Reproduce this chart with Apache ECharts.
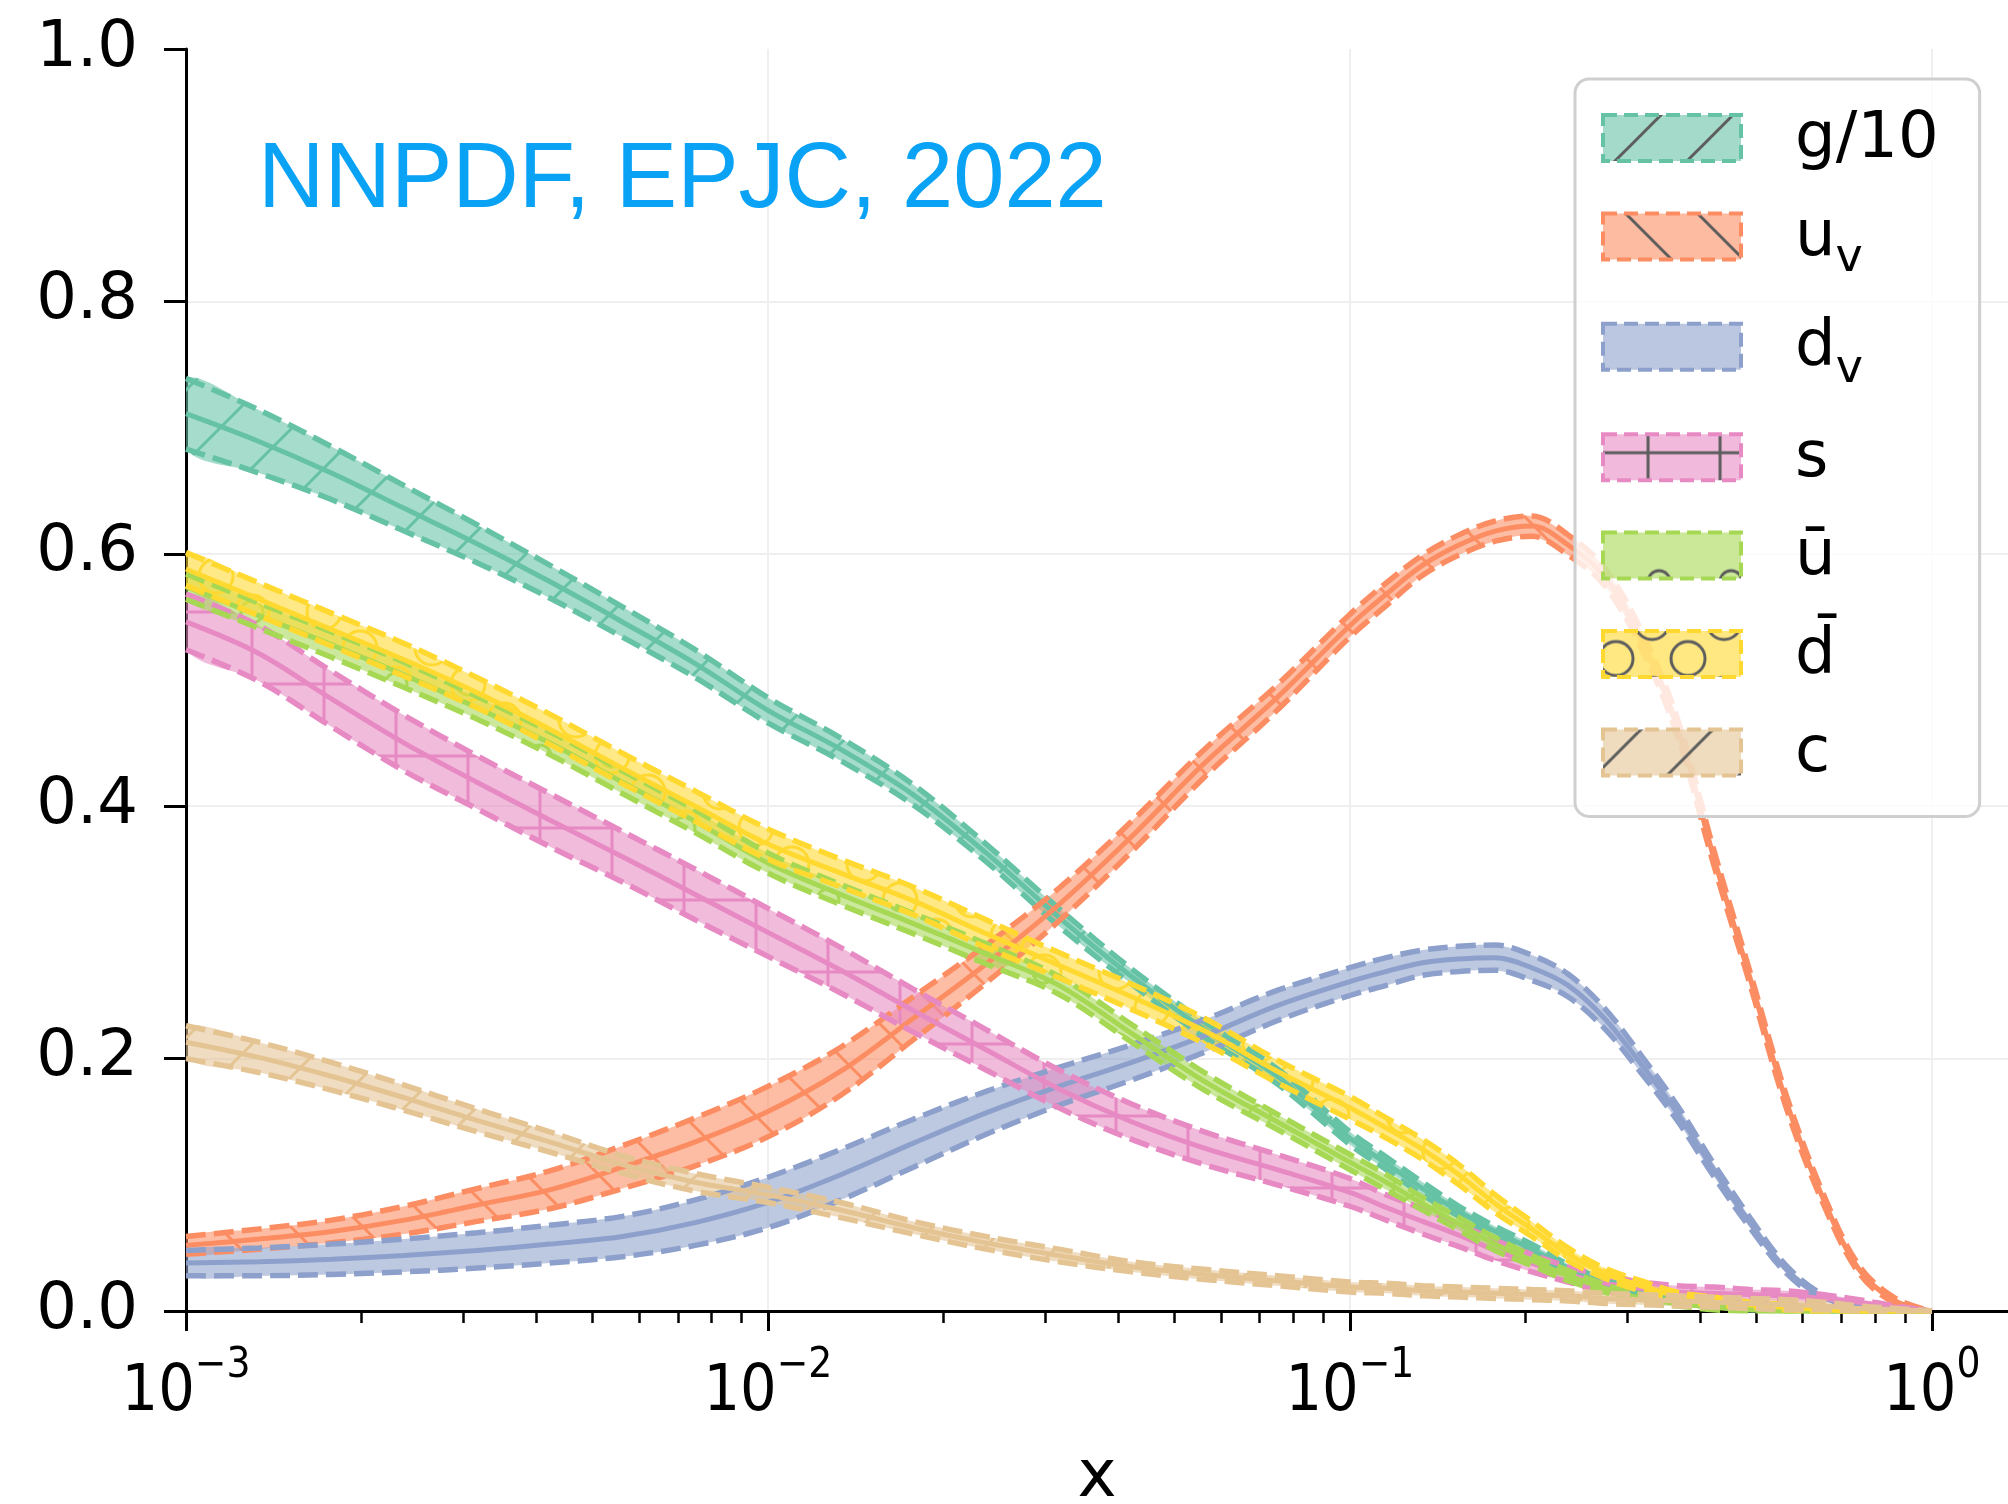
<!DOCTYPE html>
<html>
<head>
<meta charset="utf-8">
<script src="https://cdn.jsdelivr.net/npm/echarts@6/dist/echarts.min.js"></script>
<style>
  html, body { margin: 0; padding: 0; background: #ffffff; }
  #chart { width: 2008px; height: 1504px; }
</style>
</head>
<body>
<div id="chart"></div>
<script>
// Momentum fraction grid (log spaced, finer above x = 0.1)
const xValues = [0.001, 0.001334, 0.001778, 0.002371, 0.003162, 0.004217, 0.005623, 0.007499,
  0.01, 0.01334, 0.01778, 0.02371, 0.03162, 0.04217, 0.05623, 0.07499,
  0.1, 0.1155, 0.1334, 0.1540, 0.1778, 0.2054, 0.2371, 0.2738, 0.3162, 0.3652,
  0.4217, 0.4870, 0.5623, 0.6494, 0.7499, 0.8660, 1.0];

// x f(x) central values and one-sigma half widths
const gluonOver10 = [0.711, 0.689, 0.664, 0.636, 0.608, 0.578, 0.546, 0.513, 0.476, 0.445, 0.409, 0.363, 0.312, 0.265, 0.223, 0.186,
  0.137, 0.117, 0.097, 0.079, 0.063, 0.049, 0.034, 0.022, 0.015, 0.010, 0.006, 0.003, 0.002, 0.001, 0, 0, 0];
const gluonOver10Unc = [0.028, 0.025, 0.021, 0.018, 0.015, 0.013, 0.012, 0.011, 0.010, 0.009, 0.008, 0.007, 0.007, 0.006, 0.006, 0.006,
  0.005, 0.005, 0.005, 0.004, 0.004, 0.004, 0.003, 0.003, 0.003, 0.002, 0.002, 0.002, 0.001, 0.001, 0, 0, 0];

const upValence = [0.052, 0.057, 0.063, 0.072, 0.084, 0.096, 0.114, 0.134, 0.158, 0.190, 0.232, 0.275, 0.322, 0.376, 0.434, 0.486,
  0.543, 0.568, 0.591, 0.607, 0.618, 0.622, 0.607, 0.582, 0.533, 0.463, 0.360, 0.264, 0.166, 0.090, 0.033, 0.008, 0];
const upValenceUnc = [0.007, 0.008, 0.009, 0.011, 0.013, 0.015, 0.017, 0.019, 0.020, 0.019, 0.017, 0.015, 0.013, 0.012, 0.011, 0.010,
  0.009, 0.009, 0.008, 0.008, 0.008, 0.008, 0.008, 0.007, 0.007, 0.007, 0.006, 0.005, 0.005, 0.004, 0.003, 0.002, 0];

const downValence = [0.038, 0.039, 0.041, 0.044, 0.048, 0.053, 0.059, 0.070, 0.086, 0.108, 0.133, 0.157, 0.178, 0.197, 0.218, 0.242,
  0.261, 0.269, 0.276, 0.279, 0.280, 0.272, 0.258, 0.232, 0.196, 0.157, 0.112, 0.070, 0.033, 0.011, 0.003, 0.001, 0];
const downValenceUnc = [0.010, 0.011, 0.012, 0.013, 0.014, 0.015, 0.016, 0.018, 0.020, 0.020, 0.019, 0.017, 0.015, 0.014, 0.013, 0.012,
  0.011, 0.011, 0.010, 0.010, 0.010, 0.010, 0.009, 0.008, 0.007, 0.006, 0.005, 0.004, 0.003, 0.002, 0.001, 0.001, 0];

const strange = [0.546, 0.521, 0.485, 0.450, 0.419, 0.389, 0.360, 0.330, 0.300, 0.270, 0.238, 0.207, 0.176, 0.150, 0.129, 0.112,
  0.094, 0.082, 0.071, 0.060, 0.048, 0.038, 0.029, 0.022, 0.018, 0.015, 0.014, 0.013, 0.012, 0.010, 0.007, 0.003, 0];
const strangeUnc = [0.022, 0.022, 0.022, 0.022, 0.021, 0.021, 0.020, 0.020, 0.019, 0.018, 0.017, 0.016, 0.015, 0.014, 0.013, 0.012,
  0.011, 0.010, 0.010, 0.009, 0.008, 0.007, 0.006, 0.006, 0.005, 0.005, 0.005, 0.004, 0.004, 0.003, 0.002, 0.001, 0];

const antiUp = [0.574, 0.551, 0.528, 0.504, 0.478, 0.450, 0.419, 0.388, 0.355, 0.330, 0.307, 0.283, 0.258, 0.220, 0.182, 0.150,
  0.118, 0.102, 0.085, 0.069, 0.053, 0.040, 0.028, 0.018, 0.010, 0.006, 0.003, 0.001, 0, 0, 0, 0, 0];
const antiUpUnc = [0.010, 0.010, 0.010, 0.010, 0.009, 0.009, 0.009, 0.009, 0.008, 0.008, 0.008, 0.008, 0.007, 0.007, 0.007, 0.006,
  0.006, 0.006, 0.005, 0.005, 0.005, 0.004, 0.004, 0.003, 0.003, 0.002, 0.002, 0.001, 0, 0, 0, 0, 0];

const antiDown = [0.588, 0.564, 0.540, 0.516, 0.490, 0.461, 0.430, 0.400, 0.370, 0.347, 0.325, 0.299, 0.274, 0.249, 0.222, 0.190,
  0.161, 0.145, 0.128, 0.108, 0.085, 0.065, 0.045, 0.030, 0.020, 0.012, 0.008, 0.005, 0.003, 0.001, 0, 0, 0];
const antiDownUnc = [0.013, 0.013, 0.013, 0.013, 0.012, 0.012, 0.012, 0.012, 0.012, 0.011, 0.011, 0.011, 0.010, 0.010, 0.010, 0.009,
  0.009, 0.008, 0.008, 0.008, 0.007, 0.006, 0.005, 0.004, 0.004, 0.003, 0.003, 0.002, 0.002, 0.001, 0, 0, 0];

const charm = [0.213, 0.201, 0.186, 0.169, 0.151, 0.134, 0.116, 0.102, 0.092, 0.080, 0.066, 0.054, 0.044, 0.035, 0.029, 0.024,
  0.019, 0.018, 0.016, 0.015, 0.014, 0.013, 0.012, 0.010, 0.009, 0.008, 0.007, 0.006, 0.005, 0.004, 0.002, 0.001, 0];
const charmUnc = [0.013, 0.012, 0.011, 0.010, 0.009, 0.008, 0.007, 0.007, 0.006, 0.006, 0.005, 0.005, 0.005, 0.004, 0.004, 0.004,
  0.004, 0.004, 0.004, 0.004, 0.004, 0.004, 0.004, 0.004, 0.004, 0.004, 0.004, 0.004, 0.004, 0.003, 0.002, 0.001, 0];

const legendLabels = ['g/10', 'u_v', 'd_v', 's', 'ū', 'd̄', 'c'];
const xTickValues = [0.001, 0.01, 0.1, 1];
const xMinorTickValues = [0.002, 0.003, 0.004, 0.005, 0.006, 0.007, 0.008, 0.009,
  0.02, 0.03, 0.04, 0.05, 0.06, 0.07, 0.08, 0.09,
  0.2, 0.3, 0.4, 0.5, 0.6, 0.7, 0.8, 0.9];
const xAxisMin = 0.001;
const xAxisMax = 1.352;
const yAxisMin = 0, yAxisMax = 1, yAxisStep = 0.2;

// Set2 colours and hatch kinds, one per distribution
const bandColors = ['#66c2a5', '#fc8d62', '#8da0cb', '#e78ac3', '#a6d854', '#ffd92f', '#e5c494'];
const bandHatches = ['/', '\\', '', '+', 'o', 'O', '/'];
const centralSets = [gluonOver10, upValence, downValence, strange, antiUp, antiDown, charm];
const uncSets = [gluonOver10Unc, upValenceUnc, downValenceUnc, strangeUnc, antiUpUnc, antiDownUnc, charmUnc];

const FONT = 'DejaVu Sans';
const FONT_COND = "'DejaVu Sans Condensed', 'DejaVu Sans'";

// Legend layout
const LEGEND_LEFT = 1575, LEGEND_TOP = 79;
const ICON_W = 138, ICON_H = 46;
const FIRST_ICON_CY = 143, ITEM_STEP = 102.5;

function hexToRgba(hex, a) {
  const n = parseInt(hex.slice(1), 16);
  return 'rgba(' + ((n >> 16) & 255) + ',' + ((n >> 8) & 255) + ',' + (n & 255) + ',' + a + ')';
}

// Repeating tile: translucent face colour plus a hatch drawn in lineColor
function hatchPattern(color, alpha, lineColor, kind, ox, oy) {
  const P = 72;
  const cv = document.createElement('canvas');
  cv.width = P; cv.height = P;
  const ctx = cv.getContext('2d');
  ctx.fillStyle = hexToRgba(color, alpha);
  ctx.fillRect(0, 0, P, P);
  ctx.strokeStyle = lineColor;
  ctx.lineWidth = 3;
  ctx.beginPath();
  if (kind === '/') {
    ctx.moveTo(-4, P + 4); ctx.lineTo(P + 4, -4);
    ctx.moveTo(-4, 4); ctx.lineTo(4, -4);
    ctx.moveTo(P - 4, P + 4); ctx.lineTo(P + 4, P - 4);
  } else if (kind === '\\') {
    ctx.moveTo(-4, -4); ctx.lineTo(P + 4, P + 4);
    ctx.moveTo(P - 4, -4); ctx.lineTo(P + 4, 4);
    ctx.moveTo(-4, P - 4); ctx.lineTo(4, P + 4);
  } else if (kind === '+') {
    ctx.moveTo(0, P / 2); ctx.lineTo(P, P / 2);
    ctx.moveTo(P / 2, 0); ctx.lineTo(P / 2, P);
  } else if (kind === 'o') {
    ctx.moveTo(P / 2 + 11, P / 2);
    ctx.arc(P / 2, P / 2, 11, 0, Math.PI * 2);
  } else if (kind === 'O') {
    const r = 17;
    [[0, 0], [P, 0], [0, P], [P, P], [P / 2, P / 2]].forEach(function (c) {
      ctx.moveTo(c[0] + r, c[1]);
      ctx.arc(c[0], c[1], r, 0, Math.PI * 2);
    });
  }
  ctx.stroke();
  return { image: cv, repeat: 'repeat', x: ox || 0, y: oy || 0 };
}

// Shaded band between central - unc and central + unc, placed through the axes
function bandRenderer(central, unc, fill) {
  return function (params, api) {
    const upper = [], lower = [];
    for (let i = 0; i < xValues.length; i++) {
      upper.push(api.coord([xValues[i], central[i] + unc[i]]));
      lower.push(api.coord([xValues[i], central[i] - unc[i]]));
    }
    return {
      type: 'polygon',
      shape: { points: upper.concat(lower.reverse()), smooth: 0.35 },
      style: { fill: fill, stroke: null }
    };
  };
}

const edgeDash = [20, 8];
const series = [];
centralSets.forEach(function (central, k) {
  const unc = uncSets[k];
  const color = bandColors[k];
  const name = legendLabels[k];
  const lineCommon = { type: 'line', name: name, symbol: 'none', smooth: 0.35, emphasis: { disabled: true }, silent: true };
  series.push({
    type: 'custom', name: name, silent: true, clip: true,
    data: [[xValues[8], central[8]]],
    renderItem: bandRenderer(central, unc, hatchPattern(color, 0.58, color, bandHatches[k]))
  });
  series.push(Object.assign({}, lineCommon, {
    data: xValues.map(function (x, i) { return [x, central[i] - unc[i]]; }),
    lineStyle: { color: color, width: 5.5, type: edgeDash }
  }));
  series.push(Object.assign({}, lineCommon, {
    data: xValues.map(function (x, i) { return [x, central[i] + unc[i]]; }),
    lineStyle: { color: color, width: 5.5, type: edgeDash }
  }));
  series.push(Object.assign({}, lineCommon, {
    data: xValues.map(function (x, i) { return [x, central[i]]; }),
    lineStyle: { color: color, width: 5, type: 'solid' }
  }));
});

const legendRich = { 'u_v': '{m|u}{s|v}', 'd_v': '{m|d}{s|v}' };
// hatch phase inside each legend key
const legendHatchOffsets = [[1679, 0], [1600, 0], [0, 0], [1593, 0], [1604, 0], [1633, -52], [1620, 0]];

function decadeLabel(v) {
  const e = v > 0 ? Math.round(Math.log10(v)) : Math.round(v);
  return '{b|10}{e|' + (e < 0 ? '\u2212' : '') + Math.abs(e) + '}';
}

const chart = echarts.init(document.getElementById('chart'), null, { renderer: 'canvas' });
chart.setOption({
  animation: false,
  backgroundColor: '#ffffff',
  title: {
    text: 'NNPDF, EPJC, 2022',
    left: 253, top: 131, padding: 5,
    textStyle: { fontFamily: "'Liberation Sans', Arial, sans-serif", fontSize: 92, fontWeight: 'normal', color: '#0aa2f5' }
  },
  grid: { left: 186, right: 0, top: 49, bottom: 193, containLabel: false, outerBoundsMode: 'none' },
  xAxis: [{
    type: 'log', logBase: 10, min: xAxisMin, max: xAxisMax, position: 'bottom',
    name: 'x', nameLocation: 'middle', nameGap: 135, nameMoveOverlap: false,
    nameTextStyle: { fontFamily: FONT, fontSize: 66, color: '#000' },
    axisLine: { show: true, onZero: false, lineStyle: { color: '#000', width: 3 } },
    axisTick: { show: true, inside: false, length: 20, customValues: xTickValues, lineStyle: { color: '#000', width: 3 } },
    minorTick: { show: false },
    axisLabel: {
      show: true, margin: 34, customValues: xTickValues, formatter: decadeLabel,
      rich: {
        b: { fontFamily: FONT_COND, fontSize: 64, lineHeight: 80, verticalAlign: 'bottom', color: '#000' },
        e: { fontFamily: FONT_COND, fontSize: 42, lineHeight: 42, verticalAlign: 'top', color: '#000' }
      }
    },
    splitLine: { show: true, showMinLine: false, lineStyle: { color: '#efefef', width: 2 } }
  }, {
    type: 'log', logBase: 10, min: xAxisMin, max: xAxisMax, position: 'bottom',
    axisLine: { show: false },
    axisTick: { show: true, inside: false, length: 12, customValues: xMinorTickValues, lineStyle: { color: '#000', width: 2.5 } },
    axisLabel: { show: false },
    splitLine: { show: false }
  }],
  yAxis: {
    type: 'value', min: yAxisMin, max: yAxisMax, interval: yAxisStep,
    axisLine: { show: true, onZero: false, lineStyle: { color: '#000', width: 3 } },
    axisTick: { show: true, inside: false, length: 22, lineStyle: { color: '#000', width: 3 } },
    axisLabel: { margin: 48, fontFamily: FONT, fontSize: 64, color: '#000', formatter: function (v) { return v.toFixed(1); } },
    splitLine: { show: true, showMinLine: false, showMaxLine: false, lineStyle: { color: '#efefef', width: 2 } }
  },
  legend: {
    orient: 'vertical', left: LEGEND_LEFT, top: LEGEND_TOP, padding: [29, 41, 30, 26],
    itemWidth: ICON_W, itemHeight: ICON_H, itemGap: 34.4, selectedMode: false,
    backgroundColor: 'rgba(255,255,255,0.8)', borderColor: '#cfcfcf', borderWidth: 3, borderRadius: 14,
    data: legendLabels.map(function (name, k) {
      const cy = FIRST_ICON_CY + ITEM_STEP * k;
      const off = legendHatchOffsets[k];
      return {
        name: name, icon: 'rect',
        itemStyle: {
          color: hatchPattern(bandColors[k], 0.6, '#5d5d5d', bandHatches[k], off[0], cy - 36 + off[1]),
          borderColor: bandColors[k], borderWidth: 4, borderType: [14, 7], opacity: 1
        }
      };
    }),
    formatter: function (name) { return legendRich[name] || ('{m|' + name + '}'); },
    textStyle: {
      padding: [16, 0, 0, 49],
      rich: {
        m: { fontFamily: FONT, fontSize: 64, lineHeight: 76, verticalAlign: 'top', color: '#000' },
        s: { fontFamily: FONT, fontSize: 46, lineHeight: 46, verticalAlign: 'bottom', padding: [30, 0, 0, 0], color: '#000' }
      }
    }
  },
  series: series
});
</script>
</body>
</html>
